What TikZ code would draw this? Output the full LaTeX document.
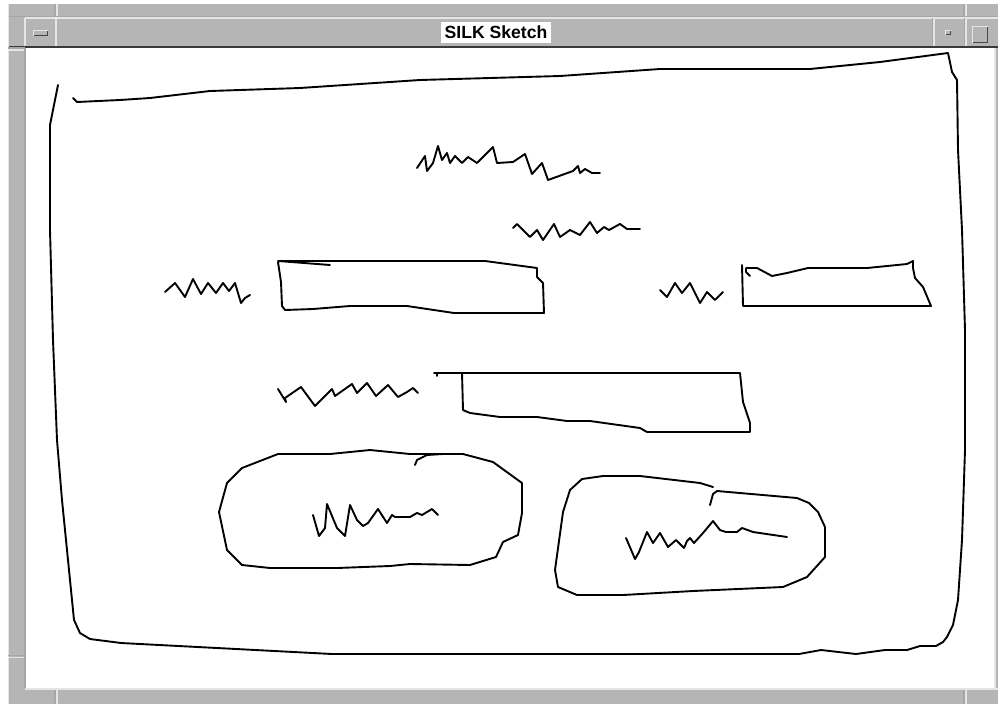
\documentclass[tikz,border=0pt]{standalone}
\usepackage{fontspec}
\setmainfont{Liberation Sans}
\begin{document}
\begin{tikzpicture}[x=1pt,y=-1pt,
  ink/.style={line width=1.9pt, line join=round, line cap=round, black},
  lite/.style={draw=gray!20!white, line width=1.2pt},
  dark/.style={draw=gray!100!black!70!white, line width=1.2pt}]
\useasboundingbox (0,0) rectangle (998,704);
\fill[white] (0,0) rectangle (998,704);
% window frame
\fill[gray!58!white] (8,4) rectangle (998,704);
\fill[white] (26,48) rectangle (995,688);
% top frame lines
\draw[dark] (8,16.5) -- (998,16.5);
\draw[lite] (25,18) -- (998,18);
\draw[lite] (25,18) -- (25,47);
\draw[dark] (55,4) -- (55,16);
\draw[lite] (57,4) -- (57,16);
\draw[dark] (964,4) -- (964,16);
\draw[lite] (966,4) -- (966,16);
% title bar
\draw[draw=gray!45!black, line width=2.5pt] (8,47) -- (998,47);
\draw[lite] (56,18) -- (56,46);
\draw[lite] (934,18) -- (934,46);
\draw[lite] (966,18) -- (966,46);
\draw[dark] (932.5,18) -- (932.5,46);
\draw[dark] (964.5,18) -- (964.5,46);
% buttons
\fill[gray!20!white] (33,30) rectangle (48,36);
\fill[gray!55!black] (34,31) rectangle (48,36);
\fill[gray!58!white] (34,31) rectangle (47,35);
\fill[gray!20!white] (945,30) rectangle (951,35);
\fill[gray!55!black] (946,31) rectangle (951,35);
\fill[gray!58!white] (946,31) rectangle (950,34);
\fill[gray!20!white] (972,26) rectangle (988,43);
\fill[gray!55!black] (973,27) rectangle (988,43);
\fill[gray!58!white] (973,27) rectangle (987,42);
% title
\fill[white] (441,22) rectangle (551,43);
\node[font=\bfseries\fontsize{17.6}{17.6}\selectfont, inner sep=0pt, anchor=base] (title) at (496,38.5) {SILK Sketch};
% left frame
\draw[lite] (8.5,4) -- (8.5,704);
\draw[dark] (25,48) -- (25,688);
\draw[dark] (8,48) -- (25,48);
\draw[lite] (8,50) -- (24,50);
\draw[dark] (8,655.5) -- (24,655.5);
\draw[lite] (8,657.5) -- (24,657.5);
% bottom frame
\draw[lite] (25,689) -- (998,689);
\draw[dark] (55,690) -- (55,704);
\draw[lite] (57,690) -- (57,704);
\draw[dark] (964,690) -- (964,704);
\draw[lite] (966,690) -- (966,704);
\draw[lite] (995,48) -- (995,688);

% ---- sketch ----
% outer border
\draw[ink] (73,98) -- (77,102) -- (120,100) -- (150,98) -- (210,91) -- (300,88) -- (420,80) -- (560,76) -- (660,69) -- (810,69) -- (880,62) -- (948,53) -- (952,72) -- (957,80) -- (958,150) -- (962,230) -- (965,330) -- (965,450) -- (962,540) -- (958,600) -- (953,625) -- (947,637) -- (943,642) -- (936,646) -- (920,646) -- (907,650) -- (885,650) -- (856,654) -- (821,650) -- (799,654) -- (332,654) -- (121,643) -- (90,639) -- (80,633) -- (74,620) -- (72,600) -- (68,560) -- (62,500) -- (57,440) -- (53,340) -- (50,230) -- (50,125) -- (58,85);
% scribble 1
\draw[ink] (417,168) -- (425,156) -- (427,171) -- (433,163) -- (438,146) -- (442,160) -- (447,153) -- (450,163) -- (455,156) -- (462,163) -- (468,157) -- (477,163) -- (493,147) -- (497,163) -- (513,162) -- (525,154) -- (532,174) -- (542,163) -- (548,180) -- (573,171) -- (578,166) -- (580,173) -- (585,169) -- (592,173) -- (600,173);
% scribble 2
\draw[ink] (513,228) -- (517,224) -- (530,237) -- (537,230) -- (543,240) -- (554,224) -- (560,237) -- (570,230) -- (580,235) -- (590,222) -- (597,233) -- (604,227) -- (609,230) -- (620,224) -- (627,229) -- (640,229);
% scribble 3 and box 1
\draw[ink] (165,292) -- (175,283) -- (185,297) -- (193,279) -- (201,294) -- (208,283) -- (216,293) -- (223,283) -- (229,291) -- (235,283) -- (241,303) -- (245,298) -- (250,295);
\draw[ink] (330,265) -- (278,261) -- (485,261) -- (537,268) -- (537,277) -- (543,283) -- (544,313) -- (454,313) -- (407,306) -- (350,306) -- (313,309) -- (285,310) -- (282,306) -- (281,282) -- (278,262);
% scribble 4 and box 2
\draw[ink] (660,290) -- (667,297) -- (675,283) -- (682,293) -- (690,283) -- (700,303) -- (707,292) -- (715,300) -- (723,292);
\draw[ink] (750,276) -- (746,272) -- (746,268) -- (757,268) -- (772,276) -- (787,273) -- (808,268) -- (867,268) -- (907,264) -- (913,261) -- (913,268) -- (915,278) -- (923,287) -- (931,306) -- (743,306) -- (742,265);
% scribble 5 and box 3
\draw[ink] (278,389) -- (286,402) -- (285,398) -- (301,387) -- (315,406) -- (332,389) -- (335,396) -- (352,384) -- (357,393) -- (367,383) -- (376,396) -- (388,385) -- (398,397) -- (407,392) -- (413,388) -- (418,393);
\draw[ink] (437,376) -- (437,373) -- (434,373) -- (740,373) -- (743,402) -- (750,423) -- (750,432) -- (647,432) -- (640,428) -- (590,421) -- (567,421) -- (537,417) -- (500,417) -- (470,413) -- (463,410) -- (462,373);
% blob 1
\draw[ink] (278,454) -- (330,454) -- (370,450) -- (410,454) -- (463,454) -- (493,462) -- (522,483) -- (522,513) -- (518,535) -- (503,542) -- (496,557) -- (470,565) -- (410,564) -- (390,566) -- (337,568) -- (270,568) -- (242,565) -- (227,550) -- (219,512) -- (227,483) -- (242,468) -- cycle;
\draw[ink] (415,465) -- (417,460) -- (427,455) -- (443,454);
\draw[ink] (313,515) -- (319,536) -- (325,528) -- (327,504) -- (337,528) -- (345,536) -- (350,505) -- (357,520) -- (363,526) -- (368,523) -- (378,509) -- (387,523) -- (392,515) -- (395,517) -- (410,517) -- (417,513) -- (422,515) -- (432,509) -- (438,515);
% blob 2
\draw[ink] (713,487) -- (700,483) -- (640,476) -- (603,476) -- (582,479) -- (570,490) -- (563,512) -- (555,570) -- (558,587) -- (577,595) -- (623,595) -- (693,591) -- (783,587) -- (807,577) -- (825,557) -- (825,527) -- (818,512) -- (809,503) -- (797,498) -- (717,491) -- (713,494) -- (710,505);
\draw[ink] (626,538) -- (635,559) -- (639,552) -- (647,532) -- (653,543) -- (660,533) -- (668,547) -- (676,540) -- (684,548) -- (687,541) -- (690,538) -- (694,543) -- (703,533) -- (713,521) -- (720,530) -- (726,532) -- (737,532) -- (742,528) -- (753,532) -- (787,537);
\end{tikzpicture}
\end{document}
